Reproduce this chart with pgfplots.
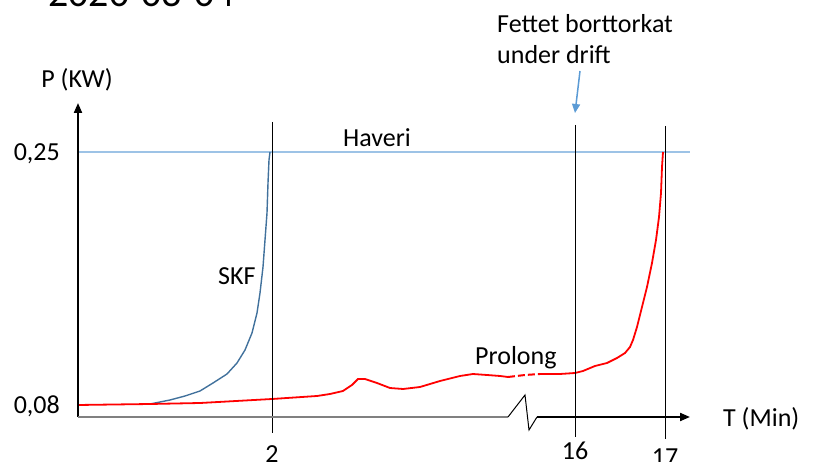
\documentclass[border=0pt]{standalone}
\usepackage{pgfplots}
\pgfplotsset{compat=1.18}
\usepackage{fontspec}
\setmainfont{Carlito}
\usetikzlibrary{arrows.meta}
\definecolor{haveri}{HTML}{9DC3E6}
\definecolor{pil}{HTML}{5B9BD5}
\definecolor{skf}{HTML}{41719C}
\newcommand\f{\fontsize{26}{31}\selectfont}
\begin{document}
\begin{tikzpicture}
\useasboundingbox (0,0) rectangle (816pt,462pt);
\begin{axis}[
 at={(78pt,45pt)}, anchor=south west,
 scale only axis, width=612pt, height=314pt,
 xmin=78, xmax=690, ymin=0.071937, ymax=0.282925,
 clip=false,
 axis line style={draw=none}, major tick length=0pt,
 xtick={272,575,665}, xticklabels={\raisebox{-1pt}{2},\raisebox{2pt}{16},\raisebox{-4pt}{17}},
 xticklabel style={anchor=base, yshift=-45pt, inner sep=0pt},
 ytick={0.08,0.25}, yticklabels={{0,08},{0,25}},
 yticklabel style={anchor=base east, inner sep=0pt, xshift=-18pt, yshift=-8.5pt},
 tick label style={font=\f},
]
% Haveri threshold
\addplot[haveri, line width=1.5pt] coordinates {(78,0.25) (690,0.25)};
% SKF
\addplot[skf, line width=1.4pt] coordinates {
(150,0.08067) (170,0.08336) (185,0.08605) (200,0.08941) (213,0.09478)
(227,0.10083) (237,0.10822) (245,0.11696) (252,0.12838) (257,0.14182)
(260,0.15526) (263,0.17273) (265,0.19087) (267,0.20901) (268,0.22917)
(269,0.24462) (270,0.25)};
% Prolong
\addplot[red, line width=1.8pt] coordinates {
(78,0.08) (150,0.08067) (200,0.08134) (272,0.08403) (317,0.08605)
(330,0.08739) (343,0.08941) (352,0.09344) (358,0.09747) (365,0.09747)
(377,0.09478) (390,0.09142) (403,0.09075) (420,0.09209) (440,0.09613)
(460,0.09949) (473,0.10083) (487,0.10016) (500,0.09949) (508,0.09881)};
\addplot[red, line width=2pt, dash pattern=on 7pt off 3pt] coordinates {
(508,0.09881) (525,0.10016) (540,0.10083)};
\addplot[red, line width=1.8pt] coordinates {
(540,0.10083) (560,0.10083) (575,0.10150) (583,0.10285) (595,0.10621)
(607,0.10822) (617,0.11158) (625,0.11494) (630,0.11897) (633,0.12368)
(637,0.13241) (642,0.14585) (647,0.15929) (652,0.17542) (656,0.19087)
(659,0.20632) (661,0.22245) (662,0.23992) (663,0.25)};
% vertical markers
\draw[line width=1pt] (axis cs:272,0.27016) -- (axis cs:272,0.06119);
\draw[line width=1pt] (axis cs:575,0.26814) -- (axis cs:575,0.05850);
\draw[line width=1pt] (axis cs:665,0.26747) -- (axis cs:665,0.05715);
% axes
\draw[line width=2pt, -{Triangle[length=10pt,width=8pt]}] (axis cs:78,0.071937) -- (axis cs:78,0.282925);
\draw[gray, line width=1.1pt] (axis cs:78,0.071937) -- (axis cs:508,0.071937);
\draw[black, line width=1pt] (axis cs:508,0.071937) -- (axis cs:525,0.08672) -- (axis cs:529,0.06320) -- (axis cs:537,0.071937);
\draw[line width=2pt, -{Triangle[length=10pt,width=8pt]}] (axis cs:537,0.071937) -- (axis cs:690,0.071937);
\end{axis}
\node[anchor=base west, inner sep=0pt, font=\fontsize{40}{48}\selectfont] at (48pt,455pt) {2020-03-04};
\node[anchor=base, inner sep=0pt, font=\f] at (77pt,374pt) {P (KW)};
\node[anchor=base west, inner sep=0pt, font=\f] at (723pt,35pt) {T (Min)};
\node[anchor=base west, inner sep=0pt, font=\f] at (343pt,315pt) {Haveri};
\node[anchor=base west, inner sep=0pt, font=\f] at (218pt,177pt) {SKF};
\node[anchor=base west, inner sep=0pt, font=\f] at (475pt,97pt) {Prolong};
\node[anchor=base west, inner sep=0pt, font=\f] at (497pt,429pt) {Fettet borttorkat};
\node[anchor=base west, inner sep=0pt, font=\f] at (497pt,398pt) {under drift};
\draw[pil, line width=1.5pt, -{Triangle[length=9pt,width=8pt]}] (580pt,391pt) -- (575pt,349pt);
\end{tikzpicture}
\end{document}
